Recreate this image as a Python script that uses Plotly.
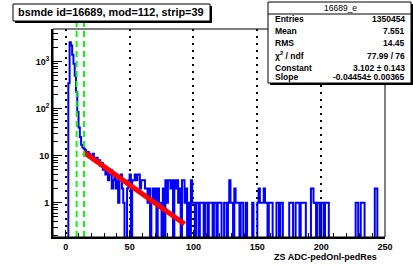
import plotly.graph_objects as go

# ---------------- data ----------------
title_text = "bsmde id=16689, mod=112, strip=39"
x_title = "ZS ADC-pedOnl-pedRes"
stats_name = "16689_e"
stats_labels = ["Entries", "Mean", "RMS", "χ<sup>2</sup> / ndf", "Constant", "Slope"]
stats_values = ["1350454", "7.551", "14.45", "77.99 / 76", "3.102 ± 0.143", "-0.04454± 0.00365"]

bin_low = -10          # first bin edge, unit-width bins
counts_core = [0] * 12 + [  # bins -10 .. 49
    350, 2600, 2200, 1400, 900, 500, 230, 85, 40, 25,
    17, 15, 14, 13, 12, 12, 11, 10, 10, 11,
    9, 8, 9, 7, 8, 6, 7, 5, 6, 4,
    5, 3, 4, 5, 2, 3, 4, 2, 3, 1,
    3, 4, 2, 1, 0, 0, 2, 3]
counts_tail = [  # bins 50 .. 249
    4, 0, 3, 3, 4, 3, 4, 4, 2, 3,
    3, 3, 2, 2, 1, 2, 0, 1, 2, 1,
    2, 0, 2, 1, 1, 0, 2, 0, 3, 1,
    3, 3, 2, 3, 0, 3, 2, 3, 1, 2,
    0, 3, 3, 1, 2, 0, 1, 0, 3, 1,
    1, 0, 1, 1, 0, 1, 1, 1, 0, 1,
    1, 0, 1, 1, 1, 0, 1, 1, 0, 1,
    1, 1, 0, 0, 1, 1, 0, 1, 3, 1,
    1, 0, 2, 1, 1, 1, 0, 1, 1, 0,
    0, 1, 0, 0, 0, 0, 1, 0, 0, 0,
    1, 2, 1, 1, 1, 2, 1, 1, 0, 1,
    1, 1, 0, 0, 0, 1, 1, 0, 1, 1,
    0, 0, 0, 0, 0, 1, 1, 1, 0, 0,
    1, 1, 1, 0, 1, 1, 1, 1, 0, 0,
    0, 0, 2, 2, 1, 1, 0, 1, 1, 0,
    1, 1, 0, 1, 1, 1, 0, 0, 0, 0,
    0, 0, 0, 0, 0, 0, 0, 0, 0, 0,
    0, 0, 0, 0, 0, 0, 0, 1, 1, 0,
    0, 1, 1, 1, 0, 0, 0, 0, 0, 0,
    0, 0, 2, 2, 0, 0, 0, 0, 0, 0]

fit_x = [14, 93]
fit_y = [11.9, 0.353]
cut_lines = [8.5, 14.3]

x_ticks = [0, 50, 100, 150, 200, 250]
y_ticks = [1, 10, 100, 1000]
y_ticklabels = ["1", "10", "10<sup>2</sup>", "10<sup>3</sup>"]

# ---------------- geometry ----------------
W, H = 413, 265
L, R, T, B = 53, 385, 29, 237
FONT = "Liberation Sans, Arial, Helvetica, sans-serif"


def fx(px):
    return (px - L) / (R - L)


def fy(py):
    return (B - py) / (B - T)


counts = counts_core + counts_tail
edges = [bin_low + i for i in range(len(counts) + 1)]
floor = 0.02  # zero bins drop below the visible log range
step_y = [c if c > 0 else floor for c in counts]
step_y = step_y + [step_y[-1]]

fig = go.Figure()
fig.add_trace(go.Scatter(x=edges, y=step_y, mode="lines", line_shape="hv",
                         line=dict(color="#0000ff", width=2), hoverinfo="skip"))
fig.add_trace(go.Scatter(x=fit_x, y=fit_y, mode="lines",
                         line=dict(color="#ff0000", width=5), hoverinfo="skip"))

shapes = []
for xc in cut_lines:
    shapes.append(dict(type="line", xref="x", yref="paper", x0=xc, x1=xc,
                       y0=0, y1=fy(19), layer="above",
                       line=dict(color="#00ff00", width=2, dash="6px,4px")))
# thin frame
shapes.append(dict(type="rect", xref="paper", yref="paper", x0=0, x1=1, y0=0, y1=1,
                   line=dict(color="black", width=1), layer="above"))
# title box with shadow
shapes.append(dict(type="rect", xref="paper", yref="paper", x0=fx(15), x1=fx(212),
                   y0=fy(23), y1=fy(6), fillcolor="black", line=dict(width=0), layer="above"))
shapes.append(dict(type="rect", xref="paper", yref="paper", x0=fx(13), x1=fx(210),
                   y0=fy(21), y1=fy(4), fillcolor="white",
                   line=dict(color="black", width=1), layer="above"))
# stats box with shadow
shapes.append(dict(type="rect", xref="paper", yref="paper", x0=fx(270), x1=fx(413),
                   y0=fy(85), y1=fy(4), fillcolor="black", line=dict(width=0), layer="above"))
shapes.append(dict(type="rect", xref="paper", yref="paper", x0=fx(268), x1=fx(411),
                   y0=fy(83), y1=fy(2), fillcolor="white",
                   line=dict(color="black", width=1), layer="above"))
shapes.append(dict(type="line", xref="paper", yref="paper", x0=fx(268), x1=fx(411),
                   y0=fy(14), y1=fy(14), line=dict(color="black", width=1), layer="above"))

ann = []
ann.append(dict(text="<b>" + title_text + "</b>", xref="paper", yref="paper",
                x=fx(16), y=fy(12.5), xanchor="left", yanchor="middle", showarrow=False,
                font=dict(family=FONT, size=10.9, color="black")))
ann.append(dict(text=stats_name, xref="paper", yref="paper",
                x=fx(340), y=fy(8), xanchor="center", yanchor="middle", showarrow=False,
                font=dict(family=FONT, size=8.5, color="black")))
rows_y = [19, 31, 43.5, 55.5, 67.5, 77.5]
for lab, val, ry in zip(stats_labels, stats_values, rows_y):
    ann.append(dict(text="<b>" + lab + "</b>", xref="paper", yref="paper",
                    x=fx(273), y=fy(ry), xanchor="left", yanchor="middle", showarrow=False,
                    font=dict(family=FONT, size=8.5, color="black")))
    ann.append(dict(text="<b>" + val + "</b>", xref="paper", yref="paper",
                    x=fx(407), y=fy(ry), xanchor="right", yanchor="middle", showarrow=False,
                    font=dict(family=FONT, size=8.5, color="black")))
ann.append(dict(text="<b>" + x_title + "</b>", xref="paper", yref="paper",
                x=fx(379), y=fy(257), xanchor="right", yanchor="middle", showarrow=False,
                font=dict(family=FONT, size=9, color="black")))

y_minor = [m * 10 ** e for e in range(0, 4) for m in range(2, 10) if m * 10 ** e < 5000] + \
          [m * 0.1 for m in range(2, 10)]

fig.update_layout(
    width=W, height=H, autosize=False,
    margin=dict(l=L, r=W - R, t=T, b=H - B, pad=0),
    paper_bgcolor="white", plot_bgcolor="white",
    showlegend=False,
    shapes=shapes, annotations=ann,
    xaxis=dict(range=[-10, 250], tickmode="array", tickvals=x_ticks,
               ticktext=["<b>%d</b>" % v for v in x_ticks],
               ticks="inside", ticklen=7, tickwidth=1, tickcolor="black",
               showline=True, linecolor="black", linewidth=2,
               showgrid=True, gridcolor="black", gridwidth=1.5, griddash="2px,5px",
               zeroline=False,
               minor=dict(dtick=10, tick0=0, ticks="inside", ticklen=4, tickcolor="black",
                          showgrid=False),
               tickfont=dict(family=FONT, size=9, color="black")),
    yaxis=dict(type="log", range=[-0.73, 3.696], tickmode="array", tickvals=y_ticks,
               ticktext=["<b>%s</b>" % t for t in y_ticklabels],
               ticks="inside", ticklen=9, tickwidth=1, tickcolor="black",
               showline=True, linecolor="black", linewidth=2,
               showgrid=False, zeroline=False,
               minor=dict(tickmode="array", tickvals=y_minor, ticks="inside", ticklen=5,
                          tickcolor="black", showgrid=False),
               tickfont=dict(family=FONT, size=9, color="black")),
)

fig.write_html("out.html", config={"displayModeBar": False},
               post_script="document.body.style.margin='0';document.body.style.overflow='hidden';")
